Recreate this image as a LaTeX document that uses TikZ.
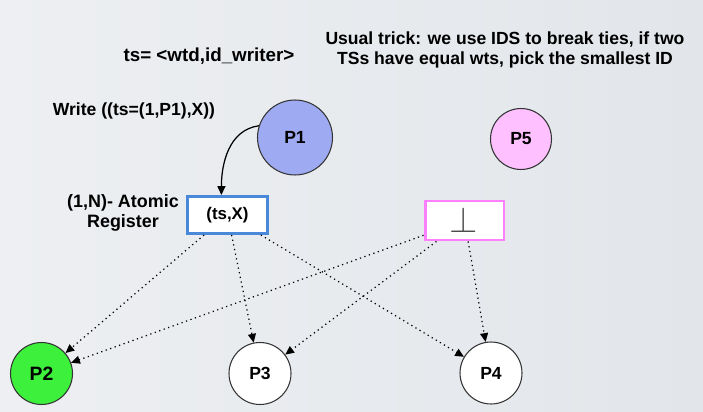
\documentclass[tikz,border=0pt]{standalone}
\usepackage{fontspec}
\setmainfont{Liberation Sans}
\usetikzlibrary{arrows.meta,shapes.geometric,calc}

\definecolor{bgcol}{RGB}{237,239,242}
\definecolor{bgcolr}{RGB}{226,230,234}
\definecolor{pblue}{RGB}{158,171,242}
\definecolor{ppink}{RGB}{255,192,255}
\definecolor{boxblue}{RGB}{74,136,218}
\definecolor{boxpink}{RGB}{255,128,255}
\definecolor{pgreen}{RGB}{60,240,60}

\tikzset{
  proc/.style={circle,draw=black!80,line width=0.6pt,minimum size=1.24cm,inner sep=0pt,font=\bfseries\fontsize{10}{12}\selectfont},
  reg/.style={rectangle,line width=1.7pt,minimum width=1.6cm,minimum height=0.74cm,font=\bfseries\fontsize{9.6}{11}\selectfont},
  lbl/.style={font=\bfseries\fontsize{10}{11.6}\selectfont,inner sep=0pt},
  rd/.style={dotted,line width=0.7pt,-{Triangle[length=5pt,width=4.5pt]}}
}

\begin{document}
\begin{tikzpicture}[x=0.02cm,y=-0.02cm]
  \shade[left color=bgcol,right color=bgcolr] (0,0) rectangle (703,412);
  \useasboundingbox (0,0) rectangle (703,412);

  % texts
  \node[lbl,font=\bfseries\fontsize{10.7}{12}\selectfont] (tsdef) at (209,56) {ts= <wtd,id\_writer>};
  \node[lbl,align=center] (trick) at (505,50) {Usual trick: we use IDS to break ties, if two\\TSs have equal wts, pick the smallest ID};
  \node[lbl] (wr) at (134,111) {Write ((ts=(1,P1),X))};
  \node[lbl,align=center,font=\bfseries\fontsize{10.2}{11.4}\selectfont] (atom) at (123,213) {(1,N)- Atomic\\Register};

  % processes
  \node[proc,fill=pblue,minimum size=1.5cm] (p1) at (295,137.5) {P1};
  \node[proc,fill=ppink,minimum size=1.22cm] (p5) at (521,139) {P5};
  \node[proc,fill=pgreen,font=\bfseries\fontsize{11}{12}\selectfont] (p2) at (41.5,373.5) {P2};
  \node[proc,fill=white] (p3) at (260,373.5) {P3};
  \node[proc,fill=white] (p4) at (491,373) {P4};

  % registers
  \node[reg,draw=boxblue,fill=white] (rx) at (227.5,215) {(ts,X)};
  \node[reg,draw=boxpink,fill=white,minimum width=1.58cm,minimum height=0.78cm] (rb) at (464.5,220.5) {};
  \node[text=black!70,font=\fontsize{22}{22}\selectfont,inner sep=0pt] (bot) at (464,220) {$\bot$};

  % write
  \draw[line width=0.7pt,-{Triangle[length=5pt,width=4.5pt]}] (p1.162) to[out=188,in=90] (rx.107);

  % reads
  \draw[rd] (rx) -- (p2);
  \draw[rd] (rx) -- (p3);
  \draw[rd] (rx) -- (p4);
  \draw[rd] (rb) -- (p2);
  \draw[rd] (rb) -- (p3);
  \draw[rd] (rb) -- (p4);
\end{tikzpicture}
\end{document}
